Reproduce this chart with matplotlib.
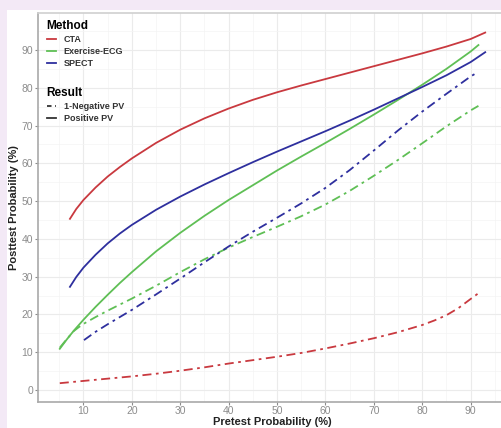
import matplotlib
matplotlib.use('Agg')
from matplotlib import pyplot as plt
from matplotlib.lines import Line2D
from matplotlib.patches import Rectangle

plt.rcParams['font.family'] = ['Liberation Sans', 'DejaVu Sans']

# curves (pretest %, posttest %)
cta_pos_x = [7.2, 8.5, 10, 12.5, 15, 17.5, 20, 25, 30, 35, 40, 45, 50, 55, 60, 65, 70, 75, 80, 85, 90, 93]
cta_pos_y = [45.3, 47.9, 50.3, 53.6, 56.5, 59.0, 61.3, 65.4, 68.9, 71.9, 74.5, 76.8, 78.8, 80.6, 82.3, 84.0, 85.7, 87.4, 89.1, 90.9, 92.9, 94.6]

cta_neg_x = [5.1, 10, 15, 20, 25, 30, 35, 40, 45, 50, 55, 60, 65, 70, 75, 80, 82.5, 85, 87.5, 90, 91.8]
cta_neg_y = [1.8, 2.4, 3.0, 3.6, 4.3, 5.1, 6.0, 7.0, 7.9, 8.8, 9.8, 11.0, 12.3, 13.7, 15.3, 17.2, 18.4, 19.8, 21.7, 24.1, 25.8]

ecg_pos_x = [5.1, 6.5, 8, 10, 12.5, 15, 17.5, 20, 25, 30, 35, 40, 45, 50, 55, 60, 65, 70, 75, 80, 85, 90, 91.6]
ecg_pos_y = [10.9, 13.3, 15.7, 18.6, 22.0, 25.2, 28.3, 31.2, 36.7, 41.6, 46.1, 50.3, 54.2, 58.1, 61.8, 65.4, 69.1, 72.9, 76.8, 80.8, 85.0, 89.6, 91.3]

ecg_neg_x = [5.1, 6.5, 8, 9, 10, 12.5, 15, 17.5, 20, 25, 30, 35, 40, 45, 50, 55, 60, 65, 70, 75, 80, 85, 90, 91.6]
ecg_neg_y = [11.2, 13.4, 15.6, 16.6, 17.5, 19.3, 21.0, 22.6, 24.2, 27.6, 31.2, 34.6, 37.7, 40.5, 43.2, 46.0, 49.1, 52.7, 56.7, 60.9, 65.3, 69.8, 74.0, 75.2]

spect_pos_x = [7.2, 8.5, 10, 12.5, 15, 17.5, 20, 25, 30, 35, 40, 45, 50, 55, 60, 65, 70, 75, 80, 85, 90, 93]
spect_pos_y = [27.3, 29.9, 32.4, 35.8, 38.8, 41.4, 43.7, 47.7, 51.2, 54.4, 57.4, 60.3, 63.1, 65.8, 68.5, 71.3, 74.2, 77.2, 80.2, 83.3, 86.8, 89.4]

spect_neg_x = [10.1, 12.5, 15, 17.5, 20, 25, 30, 35, 40, 45, 50, 55, 60, 65, 70, 75, 80, 85, 90, 90.8]
spect_neg_y = [13.2, 15.4, 17.4, 19.3, 21.2, 25.3, 29.5, 33.8, 38.0, 41.9, 45.6, 49.4, 53.5, 58.2, 63.4, 68.7, 73.7, 78.4, 83.0, 83.6]

methods = ['CTA', 'Exercise-ECG', 'SPECT']
colors = {'CTA': '#c9393f', 'Exercise-ECG': '#5fbf55', 'SPECT': '#2e2f9e'}
results = ['1-Negative PV', 'Positive PV']

dashdot = (0, (5, 2.5, 1.5, 2.5))

fig = plt.figure(figsize=(5.02, 4.28), dpi=100)
fig.patch.set_facecolor('#f3e9f6')
fig.patches.append(Rectangle((7 / 502, 0), 1, 1 - 10 / 428, transform=fig.transFigure,
                             facecolor='white', edgecolor='none', zorder=-10))

ax = fig.add_axes([38 / 502, 26.3 / 428, 468.5 / 502, 388.4 / 428])
ax.set_facecolor('white')

ax.plot(cta_pos_x, cta_pos_y, color=colors['CTA'], lw=1.3)
ax.plot(cta_neg_x, cta_neg_y, color=colors['CTA'], lw=1.3, linestyle=dashdot)
ax.plot(ecg_pos_x, ecg_pos_y, color=colors['Exercise-ECG'], lw=1.3)
ax.plot(ecg_neg_x, ecg_neg_y, color=colors['Exercise-ECG'], lw=1.3, linestyle=dashdot)
ax.plot(spect_pos_x, spect_pos_y, color=colors['SPECT'], lw=1.3)
ax.plot(spect_neg_x, spect_neg_y, color=colors['SPECT'], lw=1.3, linestyle=dashdot)

ax.set_xlim(0.6, 97.4)
ax.set_ylim(-3.1, 99.7)
ax.set_xticks(range(10, 100, 10))
ax.set_yticks(range(0, 100, 10))
ax.set_xticks(range(5, 100, 10), minor=True)
ax.set_yticks(range(5, 100, 10), minor=True)
ax.grid(which='major', color='#ebebeb', lw=0.8)
ax.grid(which='minor', color='#f4f4f4', lw=0.5)
ax.set_axisbelow(True)
ax.tick_params(which='major', colors='#8c8c8c', labelsize=7.5, length=2, width=0.8)
ax.tick_params(axis='x', which='major', pad=1)
ax.tick_params(axis='y', which='major', pad=1.5)
ax.tick_params(which='minor', length=0)

for side in ['left', 'bottom']:
	ax.spines[side].set_color('#a9a9a9')
	ax.spines[side].set_linewidth(1.2)
ax.spines['top'].set_color('#d0d0d0')
ax.spines['top'].set_linewidth(1.2)
ax.spines['right'].set_visible(False)

ax.set_xlabel('Pretest Probability (%)', fontsize=8, fontweight='bold', color='#222222', labelpad=0.5)
ax.set_ylabel('Posttest Probability (%)', fontsize=8, fontweight='bold', color='#222222', labelpad=1.5)

# legends
method_handles = [Line2D([], [], color=colors[m], lw=1.3) for m in methods]
leg1 = ax.legend(method_handles, methods, title='Method', loc='upper left',
                 bbox_to_anchor=(42 / 502, 1 - 15 / 428), bbox_transform=fig.transFigure,
                 frameon=False, borderpad=0, fontsize=6.5, title_fontsize=8.5,
                 handlelength=1.0, handletextpad=0.9, labelspacing=0.35, alignment='left')
leg1.get_title().set_fontweight('bold')
for t in leg1.get_texts():
	t.set_fontweight('bold')
	t.set_color('#333333')
ax.add_artist(leg1)

result_handles = [Line2D([], [], color='#333333', lw=1.3, linestyle=(0, (2.5, 2))),
                  Line2D([], [], color='#333333', lw=1.3)]
leg2 = ax.legend(result_handles, results, title='Result', loc='upper left',
                 bbox_to_anchor=(42 / 502, 1 - 82 / 428), bbox_transform=fig.transFigure,
                 frameon=False, borderpad=0, fontsize=6.5, title_fontsize=8.5,
                 handlelength=1.0, handletextpad=0.9, labelspacing=0.35, alignment='left')
leg2.get_title().set_fontweight('bold')
for t in leg2.get_texts():
	t.set_fontweight('bold')
	t.set_color('#333333')

plt.savefig('out.png', dpi=100, facecolor=fig.get_facecolor())
